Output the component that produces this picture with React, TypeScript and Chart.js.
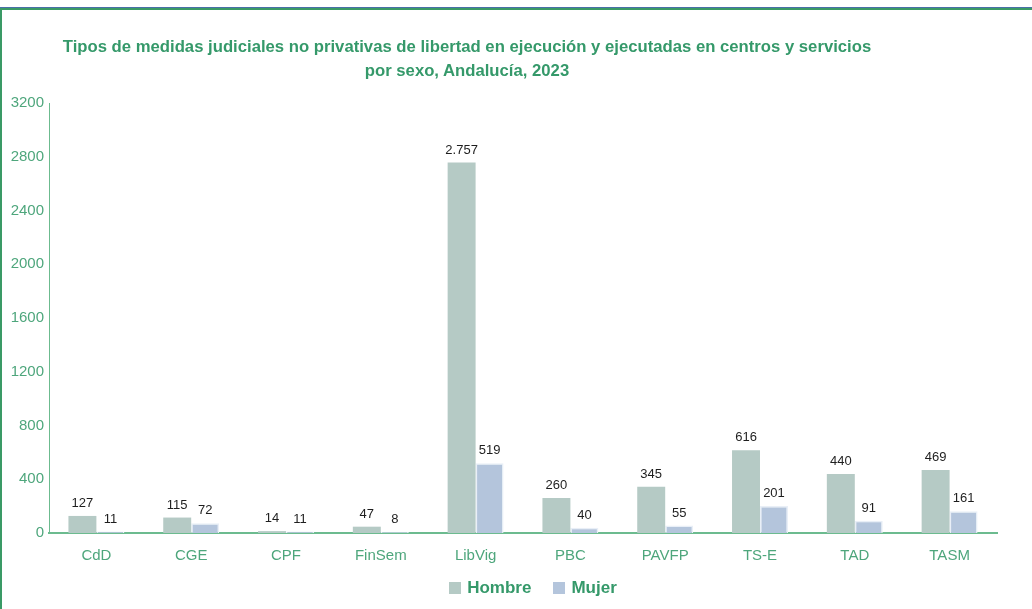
import React, { useEffect, useRef } from "react";
import { Chart, registerables } from "chart.js";

Chart.register(...registerables);

const categories = ["CdD", "CGE", "CPF", "FinSem", "LibVig", "PBC", "PAVFP", "TS-E", "TAD", "TASM"];
const hombre = [127, 115, 14, 47, 2757, 260, 345, 616, 440, 469];
const mujer = [11, 72, 11, 8, 519, 40, 55, 201, 91, 161];
const seriesNames = ["Hombre", "Mujer"];
const titleLines = [
  "Tipos de medidas judiciales no privativas de libertad en ejecución y ejecutadas en centros y servicios",
  "por sexo, Andalucía, 2023",
];

const GREEN_TEXT = "#35996a";
const GREEN_TICK = "#4ea67c";
const GREEN_AXIS = "#6cbb8f";
const C_HOMBRE = "#b5cac5";
const C_MUJER = "#b4c5dc";

const fmt = (v: number) => v.toString().replace(/\B(?=(\d{3})+(?!\d))/g, ".");

const labelPlugin = {
  id: "barLabels",
  afterDatasetsDraw(chart: any) {
    const ctx = chart.ctx;
    ctx.save();
    ctx.font = "13px 'Liberation Sans', Arial, sans-serif";
    ctx.fillStyle = "#1e1e1e";
    ctx.textAlign = "center";
    ctx.textBaseline = "bottom";
    chart.data.datasets.forEach((ds: any, i: number) => {
      const meta = chart.getDatasetMeta(i);
      meta.data.forEach((bar: any, j: number) => {
        ctx.fillText(fmt(ds.data[j]), bar.x, bar.y - 6);
      });
    });
    ctx.restore();
  },
};

export default function App() {
  const ref = useRef<HTMLCanvasElement>(null);
  useEffect(() => {
    document.body.style.margin = "0";
    const chart = new Chart(ref.current!, {
      type: "bar",
      data: {
        labels: categories,
        datasets: [
          {
            label: seriesNames[0],
            data: hombre,
            backgroundColor: C_HOMBRE,
            borderWidth: 0,
          },
          {
            label: seriesNames[1],
            data: mujer,
            backgroundColor: C_MUJER,
            borderColor: "#e9eff7",
            borderWidth: 1.5,
          },
        ],
      },
      options: {
        animation: false,
        responsive: false,
        maintainAspectRatio: false,
        layout: { padding: { left: 8, right: 35, top: 103, bottom: 36 } },
        datasets: { bar: { barPercentage: 1, categoryPercentage: 0.59 } },
        plugins: {
          legend: { display: false },
          title: { display: false },
          tooltip: { enabled: false },
        },
        scales: {
          x: {
            grid: { display: false, drawTicks: false },
            border: { color: GREEN_AXIS, width: 2 },
            ticks: {
              color: GREEN_TICK,
              font: { size: 15, family: "'Liberation Sans', Arial, sans-serif" },
              padding: 14,
            },
            afterFit: (s: any) => {
              s.height = 40;
            },
          },
          y: {
            min: 0,
            max: 3200,
            grid: { display: false, drawTicks: false },
            border: { color: GREEN_AXIS, width: 1 },
            ticks: {
              stepSize: 400,
              color: GREEN_TICK,
              font: { size: 15, family: "'Liberation Sans', Arial, sans-serif" },
              padding: 5,
              callback: (v: any) => String(v),
            },
            afterFit: (s: any) => {
              s.width = 41;
            },
          },
        },
      },
      plugins: [labelPlugin],
    });
    return () => chart.destroy();
  }, []);

  return (
    <div style={{ position: "relative", width: 1032, height: 609, background: "#fff", overflow: "hidden" }}>
      <div
        style={{
          position: "absolute",
          left: 0,
          top: 7,
          width: 1040,
          height: 610,
          borderTop: "1px solid #4a6fa8",
          boxSizing: "border-box",
        }}
      />
      <div
        style={{
          position: "absolute",
          left: 0,
          top: 8,
          width: 1040,
          height: 610,
          borderTop: "2px solid #3a9a66",
          borderLeft: "2px solid #3a9a66",
          boxSizing: "border-box",
        }}
      />
      <canvas ref={ref} width={1032} height={609} style={{ position: "absolute", left: 0, top: 0 }} />
      <div
        style={{
          position: "absolute",
          left: 0,
          top: 35,
          width: 934,
          textAlign: "center",
          color: GREEN_TEXT,
          fontFamily: "'Liberation Sans', Arial, sans-serif",
          fontWeight: "bold",
          fontSize: 16.7,
          lineHeight: "24px",
        }}
      >
        <div style={{ whiteSpace: "nowrap" }}>{titleLines[0]}</div>
        <div>{titleLines[1]}</div>
      </div>
      <div
        style={{
          position: "absolute",
          left: 0,
          width: 1066,
          top: 578,
          display: "flex",
          justifyContent: "center",
          alignItems: "center",
          gap: 22,
          color: GREEN_TEXT,
          fontFamily: "'Liberation Sans', Arial, sans-serif",
          fontWeight: "bold",
          fontSize: 17,
        }}
      >
        {seriesNames.map((n, i) => (
          <div key={n} style={{ display: "flex", alignItems: "center", gap: 6 }}>
            <span style={{ display: "inline-block", width: 12, height: 12, background: i === 0 ? C_HOMBRE : C_MUJER }} />
            <span>{n}</span>
          </div>
        ))}
      </div>
    </div>
  );
}
